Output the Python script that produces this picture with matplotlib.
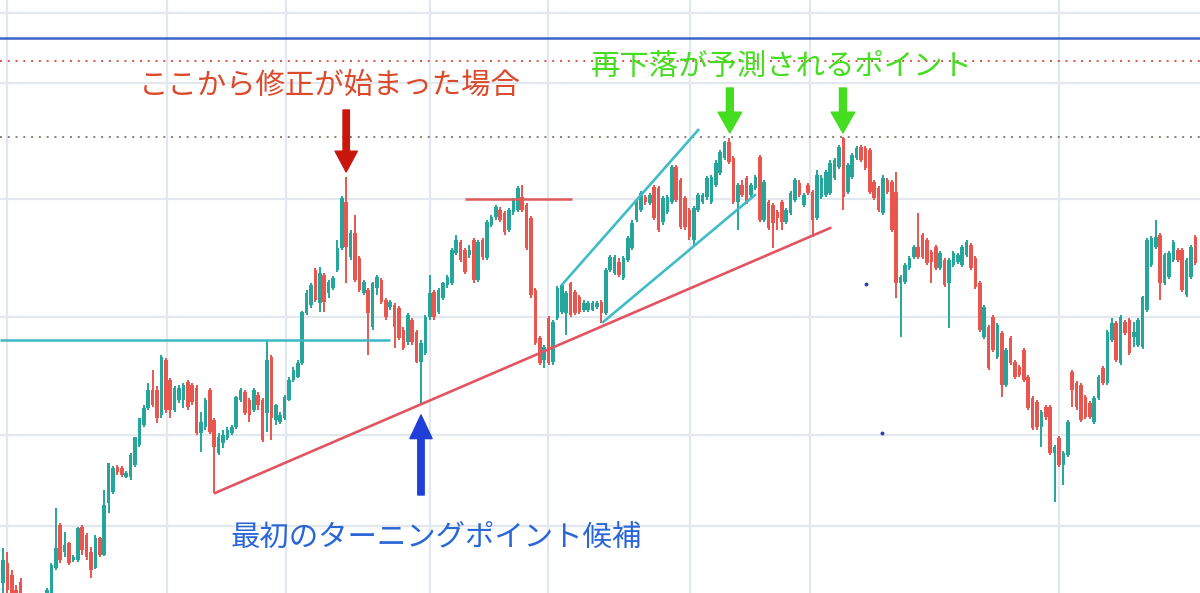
import matplotlib
matplotlib.use("Agg")
import matplotlib.pyplot as plt
import numpy as np

plt.rcParams['font.family'] = ['Noto Sans CJK JP', 'DejaVu Sans']

# candle data (index = bar number), price units
opens = [17, 37, 25, 10, 18, -5, -15, -8, -15, -5,
         -5, 0, 32, 75, 48, 57, 40, 40, 73, 65,
         48, 32, 62, 45, 97, 108, 133, 132, 123, 123,
         135, 155, 175, 192, 210, 210, 185, 240, 220, 190,
         200, 200, 218, 215, 212, 167, 173, 210, 180, 147,
         157, 162, 167, 173, 200, 208, 200, 190, 205, 200,
         187, 243, 180, 178, 182, 200, 220, 223, 237, 287,
         295, 330, 297, 325, 307, 312, 330, 352, 398, 343,
         367, 342, 307, 310, 273, 312, 320, 300, 293, 295,
         292, 270, 258, 280, 268, 238, 247, 283, 308, 288,
         302, 315, 317, 347, 358, 350, 345, 360, 320, 360,
         342, 375, 383, 390, 387, 370, 388, 390, 403, 395,
         382, 310, 262, 240, 282, 238, 282, 288, 287, 317,
         308, 303, 290, 290, 290, 293, 298, 287, 330, 327,
         338, 322, 340, 352, 380, 390, 403, 397, 413, 412,
         378, 388, 398, 433, 420, 402, 390, 360, 390, 398,
         403, 398, 415, 427, 442, 458, 442, 398, 415, 422,
         405, 412, 443, 380, 398, 395, 388, 398, 378, 387,
         400, 417, 395, 415, 408, 382, 403, 405, 407, 422,
         433, 462, 408, 423, 442, 453, 452, 450, 418, 412,
         387, 420, 418, 408, 317, 318, 332, 343, 353, 365,
         360, 348, 353, 332, 340, 317, 335, 338, 335, 345,
         355, 342, 317, 263, 273, 283, 243, 267, 215, 262,
         238, 233, 250, 223, 202, 198, 173, 193, 193, 147,
         162, 135, 145, 228, 217, 215, 203, 197, 178, 202,
         232, 217, 260, 277, 237, 278, 280, 263, 255, 253,
         290, 335, 353, 365, 317, 323, 340, 350, 350, 305,
         323, 363]
highs = [52, 48, 30, 15, 22, 0, -2, -5, 2, 7,
         12, 37, 92, 77, 68, 58, 45, 73, 75, 67,
         53, 65, 63, 110, 137, 134, 135, 134, 129, 147,
         163, 182, 195, 217, 230, 214, 245, 242, 222, 214,
         215, 217, 220, 217, 215, 188, 202, 212, 182, 167,
         170, 173, 175, 204, 212, 210, 202, 212, 208, 202,
         260, 245, 196, 188, 205, 223, 233, 240, 289, 310,
         317, 332, 333, 327, 320, 324, 360, 404, 423, 370,
         385, 344, 320, 312, 318, 325, 322, 302, 300, 297,
         294, 273, 287, 282, 270, 260, 285, 325, 310, 312,
         318, 325, 352, 365, 360, 352, 355, 362, 360, 362,
         380, 385, 395, 393, 389, 392, 402, 414, 415, 397,
         384, 312, 264, 255, 284, 280, 314, 316, 309, 318,
         310, 305, 300, 299, 299, 299, 300, 332, 345, 345,
         342, 344, 364, 380, 400, 409, 405, 407, 415, 414,
         404, 405, 435, 435, 422, 404, 392, 394, 407, 407,
         424, 425, 440, 450, 459, 462, 444, 417, 420, 424,
         417, 425, 445, 420, 400, 397, 390, 400, 392, 409,
         422, 420, 407, 417, 410, 430, 425, 430, 440, 442,
         455, 463, 437, 447, 454, 455, 454, 452, 420, 414,
         425, 422, 420, 428, 325, 337, 344, 355, 387, 367,
         362, 350, 355, 349, 342, 342, 349, 347, 355, 360,
         357, 344, 319, 295, 275, 285, 277, 269, 252, 264,
         240, 235, 252, 225, 204, 200, 190, 195, 195, 155,
         164, 149, 180, 230, 219, 217, 205, 199, 204, 225,
         234, 270, 282, 279, 285, 280, 282, 278, 282, 304,
         362, 364, 380, 367, 347, 349, 360, 352, 352, 342,
         355, 365]
lows = [5, 0, -5, -15, -15, -20, -18, -25, -20, -8,
        -10, -5, 30, 37, 43, 35, 38, 38, 45, 40,
        22, 31, 43, 44, 87, 106, 125, 123, 122, 120,
        133, 153, 173, 190, 193, 177, 182, 187, 182, 188,
        197, 192, 190, 195, 165, 148, 170, 166, 107, 145,
        152, 160, 165, 171, 198, 185, 178, 188, 190, 158,
        168, 160, 175, 176, 180, 199, 218, 222, 235, 285,
        292, 298, 288, 288, 302, 310, 328, 350, 317, 340,
        318, 308, 305, 245, 270, 305, 296, 280, 290, 252,
        260, 250, 255, 255, 237, 195, 245, 280, 280, 286,
        300, 312, 315, 345, 338, 326, 342, 317, 318, 340,
        340, 373, 380, 378, 365, 368, 385, 388, 388, 350,
        302, 255, 235, 232, 235, 235, 280, 286, 265, 283,
        285, 286, 288, 288, 289, 291, 277, 285, 328, 325,
        323, 320, 338, 350, 378, 388, 395, 395, 380, 368,
        375, 386, 396, 398, 371, 370, 360, 355, 388, 396,
        400, 396, 413, 425, 440, 436, 396, 370, 403, 396,
        403, 410, 378, 378, 370, 352, 370, 370, 376, 385,
        398, 403, 393, 405, 363, 380, 401, 403, 405, 420,
        431, 390, 406, 421, 440, 438, 430, 406, 400, 388,
        385, 406, 368, 302, 263, 316, 330, 341, 341, 341,
        335, 317, 330, 330, 313, 272, 333, 336, 333, 343,
        330, 311, 268, 261, 230, 248, 241, 203, 213, 235,
        221, 223, 218, 190, 170, 170, 153, 180, 145, 98,
        133, 115, 143, 193, 190, 178, 181, 181, 176, 200,
        215, 215, 258, 238, 235, 265, 245, 253, 253, 251,
        288, 333, 351, 300, 315, 321, 338, 338, 308, 303,
        321, 335]
closes = [40, 10, 0, -10, -10, -15, -5, -20, 0, 5,
          10, 35, 52, 40, 55, 37, 43, 72, 50, 43,
          30, 62, 45, 95, 137, 132, 128, 125, 127, 145,
          163, 182, 192, 210, 195, 182, 243, 190, 190, 212,
          212, 215, 193, 198, 167, 178, 200, 168, 153, 163,
          165, 170, 173, 203, 210, 187, 185, 210, 195, 160,
          240, 182, 195, 185, 203, 220, 230, 237, 288, 307,
          315, 300, 327, 298, 318, 322, 352, 402, 353, 367,
          320, 310, 318, 287, 317, 323, 298, 283, 298, 273,
          262, 252, 285, 258, 238, 257, 283, 307, 283, 310,
          317, 323, 350, 360, 340, 328, 350, 320, 358, 343,
          378, 383, 393, 380, 368, 390, 400, 412, 390, 352,
          305, 257, 237, 253, 237, 278, 312, 315, 307, 285,
          287, 288, 297, 297, 297, 297, 287, 330, 343, 343,
          325, 342, 362, 377, 397, 407, 398, 405, 382, 370,
          402, 403, 433, 400, 373, 373, 363, 392, 405, 405,
          422, 423, 437, 448, 458, 438, 398, 415, 405, 398,
          415, 423, 380, 418, 372, 377, 382, 378, 390, 407,
          420, 405, 405, 407, 380, 425, 422, 428, 437, 440,
          453, 403, 435, 445, 452, 440, 432, 408, 402, 390,
          422, 408, 370, 317, 323, 335, 342, 353, 343, 343,
          337, 338, 332, 347, 315, 340, 347, 345, 353, 358,
          332, 313, 270, 293, 232, 250, 275, 215, 250, 237,
          223, 225, 220, 192, 172, 173, 188, 183, 147, 153,
          135, 147, 178, 210, 193, 180, 183, 183, 202, 223,
          217, 268, 277, 240, 283, 267, 247, 268, 280, 303,
          360, 362, 363, 317, 345, 347, 358, 340, 310, 340,
          353, 337]

# vertical (time) grid positions and horizontal (price) grid levels
time_grid = [0.9, 37.3, 64.3, 97.0, 123.9, 156.1, 183.4, 240.0]
price_grid = [74, 165, 283, 401, 517, 587]

# horizontal levels
blue_level = 562
red_dotted_level = 539
gray_dotted_level = 463
support_level = 260          # cyan, bars -0.7 .. 88
resistance_level = 401       # red, bars 105 .. 129.3

# trend / channel lines: (bar, price) pairs
trend_line = ([48.2, 188.0], [107, 372])
channel_upper = ([127.0, 158.0], [315, 470])
channel_lower = ([136.4, 170.9], [278, 405])

GREEN = "#26a69a"
RED = "#e9564f"

fig = plt.figure(figsize=(12, 5.93), dpi=100)
ax = fig.add_axes([0, 0, 1, 1])
ax.set_xlim(-0.68, 272.05)
ax.set_ylim(7, 600)

for s in ax.spines.values():
    s.set_visible(False)
ax.set_xticks(time_grid)
ax.set_yticks(price_grid)
ax.tick_params(length=0, labelbottom=False, labelleft=False)
ax.grid(True, color="#e3e8ee", linewidth=1.6, zorder=0)
ax.set_axisbelow(True)

o = np.array(opens, float)
h = np.array(highs, float)
l = np.array(lows, float)
c = np.array(closes, float)
idx = np.arange(len(o))
cols = [GREEN if cc >= oo else RED for oo, cc in zip(o, c)]

ax.vlines(idx, l, h, colors=cols, linewidth=1.4, zorder=2)
body_bot = np.minimum(o, c)
body_h = np.maximum(np.abs(c - o), 2.0)
ax.bar(idx, body_h, bottom=body_bot, width=0.8, color=cols, linewidth=0, zorder=3)

# horizontal lines
ax.axhline(blue_level, color="#3f63c8", linewidth=1.8, zorder=4)
ax.axhline(red_dotted_level, color="#d9534f", linewidth=1.4, linestyle=(0, (1, 3)), zorder=4)
ax.axhline(gray_dotted_level, color="#8b7d76", linewidth=1.4, linestyle=(0, (1, 3)), zorder=4)
ax.hlines(support_level, -0.7, 88.0, color="#3db8c3", linewidth=1.8, zorder=4)
ax.hlines(resistance_level, 105.0, 129.3, color="#e05a5a", linewidth=1.8, zorder=4)

ax.plot(*trend_line, color="#e35462", linewidth=1.9, zorder=5)
ax.plot(*channel_upper, color="#3fbcc6", linewidth=1.9, zorder=5)
ax.plot(*channel_lower, color="#3fbcc6", linewidth=1.9, zorder=5)

# small stray dots
ax.plot([196.1, 199.8], [316, 167], "o", color="#2b3fb0", markersize=1.8, zorder=5)


def arrow(x, tail, tip, color, hw=16, hl=15, tw=4.6):
    ax.annotate("", xy=(x, tip), xytext=(x, tail),
                arrowprops=dict(arrowstyle=f"simple,head_length={hl},head_width={hw},tail_width={tw}",
                                color=color, shrinkA=0, shrinkB=0, mutation_scale=1),
                zorder=6)


arrow(78.0, 490, 428, "#c8170d")
arrow(165.2, 512, 467, "#44dd1f", hw=17, hl=15, tw=5.0)
arrow(190.9, 512, 467, "#44dd1f", hw=17, hl=15, tw=5.0)
arrow(95.0, 105, 185, "#1f3fd8", hw=16, hl=17, tw=4.6)

ax.text(74.3, 515, "ここから修正が始まった場合", color="#dc4a2c", fontsize=21.2,
        ha="center", va="center", zorder=7)
ax.text(177.0, 534, "再下落が予測されるポイント", color="#44dd1f", fontsize=21.2,
        ha="center", va="center", zorder=7)
ax.text(98.4, 63, "最初のターニングポイント候補", color="#2b66d6", fontsize=21.2,
        ha="center", va="center", zorder=7)

fig.savefig("out.png", dpi=100)
